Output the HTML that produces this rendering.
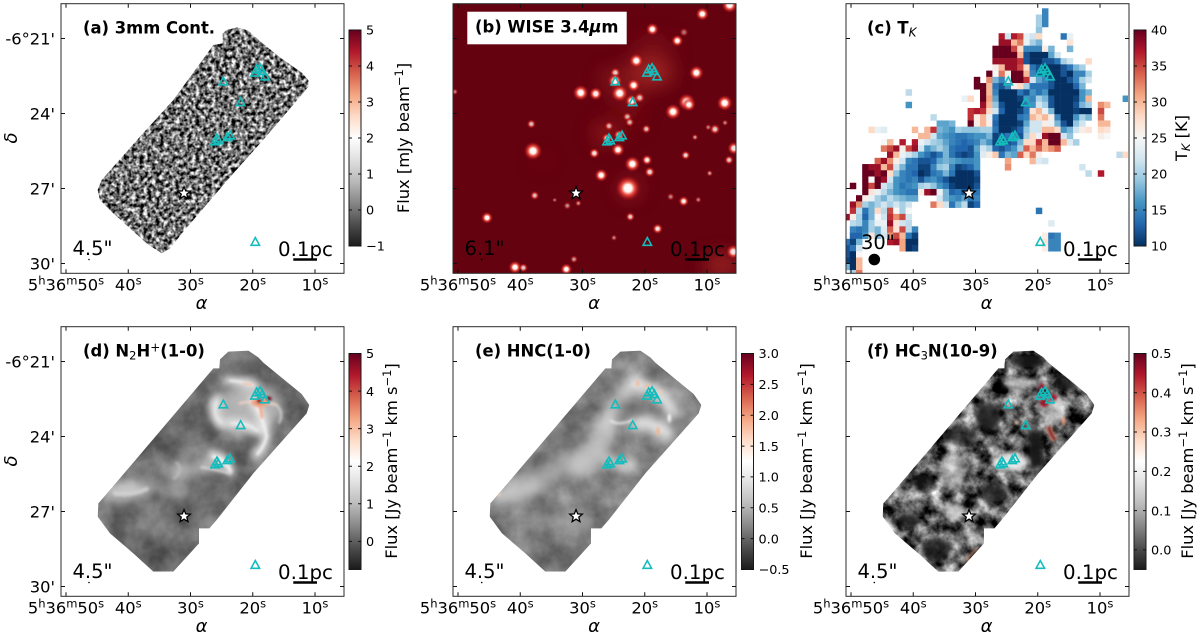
<!DOCTYPE html>
<html lang="en">
<head>
<meta charset="utf-8">
<title>Molecular line maps</title>
<style>
html,body{margin:0;padding:0;background:#fff;width:1200px;height:639px;overflow:hidden}
svg{display:block;filter:blur(.3px)}
text{font-family:"DejaVu Sans","Liberation Sans",sans-serif;fill:#000}
.title{font-weight:bold;font-size:16.4px}
.res{font-size:19.5px}
.cb{font-size:16.3px}
.ax{font-size:18px;font-style:italic}
</style>
</head>
<body>
<svg id="fig" xmlns="http://www.w3.org/2000/svg" width="1200" height="639" viewBox="0 0 1200 639">
<defs>
<filter id="noiseA" x="0" y="0" width="1" height="1" color-interpolation-filters="sRGB"><feTurbulence type="fractalNoise" baseFrequency="0.25" numOctaves="2" seed="4"/><feColorMatrix values="2.1 0 0 0 -0.6  2.1 0 0 0 -0.6  2.1 0 0 0 -0.6  0 0 0 0 1"/></filter>
<filter id="mottleD" x="0" y="0" width="1" height="1" color-interpolation-filters="sRGB"><feTurbulence type="fractalNoise" baseFrequency="0.012" numOctaves="4" seed="9"/><feColorMatrix values="0.42 0 0 0 0.22  0.42 0 0 0 0.22  0.42 0 0 0 0.22  0 0 0 0 1"/></filter>
<filter id="mottleE" x="0" y="0" width="1" height="1" color-interpolation-filters="sRGB"><feTurbulence type="fractalNoise" baseFrequency="0.012" numOctaves="4" seed="12"/><feColorMatrix values="0.42 0 0 0 0.28  0.42 0 0 0 0.28  0.42 0 0 0 0.28  0 0 0 0 1"/></filter>
<filter id="mottleF" x="0" y="0" width="1" height="1" color-interpolation-filters="sRGB"><feTurbulence type="fractalNoise" baseFrequency="0.022" numOctaves="5" seed="21"/><feColorMatrix values="1.7 0 0 0 -0.46  1.7 0 0 0 -0.46  1.7 0 0 0 -0.46  0 0 0 0 1"/></filter>
<filter id="soft" x="-30%" y="-30%" width="160%" height="160%"><feGaussianBlur stdDeviation="7"/></filter>
<filter id="softE" x="-30%" y="-30%" width="160%" height="160%"><feGaussianBlur stdDeviation="16"/></filter>
<filter id="softer" x="-40%" y="-40%" width="180%" height="180%"><feGaussianBlur stdDeviation="30"/></filter>
<filter id="halo" x="-30%" y="-30%" width="160%" height="160%"><feGaussianBlur stdDeviation="12"/></filter>
<filter id="fine" x="-30%" y="-30%" width="160%" height="160%"><feGaussianBlur stdDeviation="4"/></filter>
<radialGradient id="starGlow"><stop offset="0" stop-color="#fff"/><stop offset=".3" stop-color="#fff2ee"/><stop offset=".5" stop-color="#f2584a"/><stop offset=".78" stop-color="#b81c20" stop-opacity=".55"/><stop offset="1" stop-color="#8c0a14" stop-opacity="0"/></radialGradient>
<clipPath id="clipA"><polygon transform="scale(.33333)" points="668,100 680,90 712,82 745,92 778,122 840,172 905,218 925,240 925,260 905,285 785,425 700,520 640,590 550,695 510,745 485,760 440,730 340,640 300,600 293,570 305,540 420,410 520,300 640,135 668,130"/></clipPath>
<clipPath id="clipD"><polygon id="shapeD" points="660,118 685,95 745,92 775,112 790,128 905,222 928,255 920,280 760,460 650,600 628,625 597,625 597,670 520,755 460,755 400,700 330,640 293,590 295,550 330,510 640,145 658,145"/></clipPath>
<clipPath id="clipB"><rect x="453" y="4" width="283" height="269"/></clipPath>
<clipPath id="clipC"><rect x="846" y="4" width="282" height="269"/></clipPath>
</defs>

<g id="panel-a">
<g clip-path="url(#clipA)"><rect x="61" y="4" width="283" height="269" filter="url(#noiseA)"/></g>
</g>

<g id="panel-b" clip-path="url(#clipB)">
<rect x="453" y="4" width="283" height="269" fill="#640210"/>
<g transform="translate(420,0) scale(.33333)" filter="url(#softer)">
<ellipse cx="690" cy="215" rx="70" ry="40" fill="#c43a30" opacity=".7"/>
<ellipse cx="620" cy="290" rx="45" ry="30" fill="#b02a26" opacity=".45"/>
<ellipse cx="575" cy="235" rx="30" ry="16" fill="#d04838" opacity=".7"/>
<ellipse cx="700" cy="135" rx="60" ry="22" fill="#9a1c1c" opacity=".55"/>
<ellipse cx="560" cy="400" rx="38" ry="24" fill="#c03028" opacity=".75"/>
<ellipse cx="640" cy="350" rx="22" ry="40" fill="#8e1418" opacity=".45"/>
<ellipse cx="905" cy="795" rx="50" ry="24" fill="#c03a30" opacity=".9"/>
<ellipse cx="365" cy="480" rx="24" ry="10" fill="#9a1c1c" opacity=".55"/>
<ellipse cx="630" cy="565" rx="26" ry="26" fill="#c03a30" opacity=".75"/>
</g>
<g id="wise-stars"></g>
</g>

<g id="panel-c" clip-path="url(#clipC)"><g id="tk-cells"></g></g>

<g id="panel-d" transform="translate(0,320) scale(.33333)">
<g clip-path="url(#clipD)">
<rect x="260" y="60" width="700" height="730" filter="url(#mottleD)"/>
<g filter="url(#softE)" opacity=".75" stroke="#cfcfcf" fill="none">
<ellipse cx="740" cy="270" rx="105" ry="75" fill="#cccccc" stroke="none"/>
<ellipse cx="380" cy="510" rx="80" ry="28" fill="#e2e2e2" stroke="none"/>
<path d="M520,470 Q600,430 680,430" stroke-width="36"/>
<path d="M440,470 Q470,520 560,520" stroke-width="24" stroke="#b0b0b0"/>
<path d="M560,400 Q540,430 500,460" stroke-width="24" stroke="#b8b8b8"/>
</g>
<g filter="url(#halo)" fill="none" stroke="#f2f2f2" stroke-linecap="round" opacity=".9">
<path d="M680,180 Q720,182 765,198" stroke-width="26"/>
<path d="M650,240 Q632,285 665,312" stroke-width="28"/>
<path d="M760,240 Q790,300 800,350 Q790,385 770,405" stroke-width="28"/>
<path d="M690,310 Q740,305 772,335" stroke-width="22"/>
<path d="M640,405 Q680,420 692,458" stroke-width="30"/>
</g>
<g filter="url(#fine)" fill="none" stroke-linecap="round" opacity=".85">
<path d="M690,182 Q725,184 760,196" stroke="#f4f4f4" stroke-width="7"/>
<path d="M650,245 Q636,285 665,308" stroke="#e6e6e6" stroke-width="7"/>
<path d="M770,260 Q792,305 800,350 Q790,385 772,402" stroke="#f6f6f6" stroke-width="8"/>
<path d="M695,310 Q740,306 772,332" stroke="#f0f0f0" stroke-width="7"/>
<path d="M820,250 Q855,270 838,308" stroke="#dedede" stroke-width="6"/>
<path d="M640,410 Q680,420 692,456" stroke="#f4f4f4" stroke-width="10"/>
<path d="M605,442 Q650,448 690,460" stroke="#d8d8d8" stroke-width="8"/>
<path d="M530,428 Q552,450 522,476" stroke="#bdbdbd" stroke-width="8"/>
<path d="M345,520 Q400,526 440,507" stroke="#d4d4d4" stroke-width="12"/>
<path d="M720,250 Q760,238 830,255" stroke="#f2d6ca" stroke-width="8"/>
</g>
<g filter="url(#fine)">
<path d="M780,250 L786,295" stroke="#f4a582" stroke-width="8" fill="none"/>
<path d="M728,190 L758,195" stroke="#f4b699" stroke-width="5" fill="none"/>
<ellipse cx="780" cy="248" rx="26" ry="13" fill="#f0a080"/>
<ellipse cx="778" cy="243" rx="9" ry="7" fill="#8f0d22"/>
<ellipse cx="806" cy="236" rx="9" ry="6" fill="#67001f"/>
</g>
</g>
</g>

<g id="panel-e" transform="translate(420,320) scale(.33333)">
<g transform="translate(-84,0)"><g clip-path="url(#clipD)"><g transform="translate(84,0)">
<rect x="180" y="60" width="700" height="730" filter="url(#mottleE)"/>
<g filter="url(#softE)" fill="none" stroke-linecap="round">
<path d="M235,530 Q300,500 340,500" stroke="#d8d8d8" stroke-width="50" opacity=".85"/>
<path d="M300,530 Q400,440 480,420" stroke="#bcbcbc" stroke-width="60" opacity=".7"/>
<path d="M480,440 Q530,400 560,320" stroke="#cccccc" stroke-width="70" opacity=".8"/>
<path d="M560,300 Q600,230 650,180" stroke="#dcdcdc" stroke-width="40" opacity=".8"/>
<path d="M650,310 Q690,300 740,340" stroke="#f4f4f4" stroke-width="46" opacity=".9"/>
<path d="M640,190 Q720,200 760,280" stroke="#f6f6f6" stroke-width="34"/>
<path d="M560,420 Q590,440 640,440" stroke="#e4e4e4" stroke-width="26"/>
<path d="M360,600 Q420,610 500,610" stroke="#acacac" stroke-width="32" opacity=".7"/>
<ellipse cx="610" cy="255" rx="24" ry="20" fill="#7d7d7d" stroke="none"/>
</g>
<g filter="url(#fine)">
<ellipse cx="653" cy="190" rx="5" ry="10" fill="#f4b699"/>
<ellipse cx="682" cy="198" rx="8" ry="5" fill="#f4b699"/>
<ellipse cx="714" cy="334" rx="5" ry="14" fill="#f4b28f"/>
<ellipse cx="722" cy="215" rx="6" ry="4" fill="#f7c9ad"/>
<ellipse cx="237" cy="524" rx="7" ry="4" fill="#f7c9ad"/>
<ellipse cx="748" cy="294" rx="5" ry="14" fill="#fafafa"/>
<path d="M570,300 Q590,320 640,300" stroke="#ececec" stroke-width="6" fill="none"/>
</g>
</g></g></g>
</g>

<g id="panel-f" transform="translate(780,320) scale(.33333)">
<g transform="translate(15,0)"><g clip-path="url(#clipD)"><g transform="translate(-15,0)">
<rect x="290" y="60" width="700" height="730" filter="url(#mottleF)"/>
<g filter="url(#soft)">
<path d="M770,330 Q760,400 775,445" stroke="#141414" stroke-width="44" fill="none" opacity=".95"/>
<ellipse cx="625" cy="290" rx="36" ry="45" fill="#1c1c1c" opacity=".85"/>
<ellipse cx="740" cy="125" rx="50" ry="22" fill="#161616" opacity=".9"/>
<ellipse cx="860" cy="190" rx="40" ry="22" fill="#1c1c1c" opacity=".8"/>
<ellipse cx="385" cy="600" rx="30" ry="22" fill="#1c1c1c" opacity=".85"/>
<ellipse cx="470" cy="690" rx="40" ry="36" fill="#1c1c1c" opacity=".8"/>
<ellipse cx="640" cy="520" rx="40" ry="30" fill="#1c1c1c" opacity=".8"/>
<ellipse cx="545" cy="350" rx="50" ry="28" fill="#222" opacity=".7"/>
<ellipse cx="430" cy="490" rx="30" ry="30" fill="#222" opacity=".6"/>
<ellipse cx="520" cy="450" rx="36" ry="55" fill="#c8c8c8" opacity=".6"/>
<ellipse cx="525" cy="575" rx="30" ry="26" fill="#d0d0d0" opacity=".7"/>
<ellipse cx="690" cy="425" rx="52" ry="26" fill="#f2f2f2" opacity=".9"/>
<ellipse cx="720" cy="190" rx="50" ry="16" fill="#d8d8d8" opacity=".7"/>
<ellipse cx="820" cy="270" rx="32" ry="46" fill="#cfcfcf" opacity=".6"/>
</g>
<g filter="url(#fine)">
<path d="M806,320 Q812,345 826,360" stroke="#f4a582" stroke-width="17" fill="none"/>
<path d="M806,320 Q812,345 826,360" stroke="#7a0522" stroke-width="11" fill="none"/>
<ellipse cx="785" cy="205" rx="8" ry="16" fill="#8a0a24"/>
<ellipse cx="792" cy="250" rx="13" ry="11" fill="#9a1428"/>
<ellipse cx="820" cy="232" rx="12" ry="9" fill="#a5162a"/>
<ellipse cx="850" cy="303" rx="5" ry="13" fill="#f09a78"/>
<path d="M555,722 L592,684" stroke="#f4b699" stroke-width="5" fill="none"/>
<ellipse cx="710" cy="308" rx="7" ry="5" fill="#f7d0bb"/>
</g>
</g></g></g>
</g>

<!-- panel titles -->
<text class="title" x="83" y="33.5">(a) 3mm Cont.</text>
<rect x="467.3" y="11.7" width="159.4" height="32.6" fill="#fff"/>
<text class="title" x="475" y="32.5">(b) WISE 3.4<tspan font-style="italic">μ</tspan>m</text>
<text class="title" x="867" y="33.5">(c) T<tspan font-size="12" font-style="italic" font-weight="normal" dy="3">K</tspan></text>
<text class="title" x="83" y="356.5">(d) N<tspan font-size="11.5" font-weight="normal" dy="3">2</tspan><tspan dy="-3">H</tspan><tspan font-size="12" font-weight="normal" dy="-5">+</tspan><tspan dy="5">(1-0)</tspan></text>
<text class="title" x="475" y="356.5">(e) HNC(1-0)</text>
<text class="title" x="867" y="356.5">(f) HC<tspan font-size="11.5" font-weight="normal" dy="3">3</tspan><tspan dy="-3">N(10-9)</tspan></text>

<!-- beam sizes -->
<text class="res" x="72.5" y="255">4.5"</text>
<text class="res" x="464.5" y="255">6.1"</text>
<text class="res" x="861" y="249">30"</text>
<text class="res" x="72.5" y="578">4.5"</text>
<text class="res" x="464.5" y="578">4.5"</text>
<text class="res" x="857.5" y="578">4.5"</text>
<circle cx="89" cy="259.5" r=".8"/>
<circle cx="481.7" cy="259.5" r="1"/>
<circle cx="874.3" cy="259.5" r="5.8"/>
<circle cx="89" cy="582.5" r=".8"/>
<circle cx="481.7" cy="582.5" r=".8"/>
<circle cx="874.3" cy="582.5" r=".8"/>

<!-- axis / colorbar titles -->
<text class="ax" x="201.5" y="309" text-anchor="middle">α</text>
<text class="ax" x="594" y="309" text-anchor="middle">α</text>
<text class="ax" x="986.5" y="309" text-anchor="middle">α</text>
<text class="ax" x="201.5" y="632" text-anchor="middle">α</text>
<text class="ax" x="594" y="632" text-anchor="middle">α</text>
<text class="ax" x="986.5" y="632" text-anchor="middle">α</text>
<text class="ax" transform="translate(17,138) rotate(-90)" text-anchor="middle">δ</text>
<text class="ax" transform="translate(17,461) rotate(-90)" text-anchor="middle">δ</text>
<text class="cb" transform="translate(409,138) rotate(-90)" text-anchor="middle">Flux [mJy beam<tspan font-size="11.5" dy="-6">−1</tspan><tspan dy="6">]</tspan></text>
<text class="cb" transform="translate(1187,138) rotate(-90)" text-anchor="middle">T<tspan font-size="11.5" font-style="italic" dy="3">K</tspan><tspan dy="-3"> [K]</tspan></text>
<text class="cb" transform="translate(397,461) rotate(-90)" text-anchor="middle">Flux [Jy beam<tspan font-size="11.5" dy="-6">−1</tspan><tspan dy="6"> km s</tspan><tspan font-size="11.5" dy="-6">−1</tspan><tspan dy="6">]</tspan></text>
<text class="cb" transform="translate(812,461) rotate(-90)" text-anchor="middle">Flux [Jy beam<tspan font-size="11.5" dy="-6">−1</tspan><tspan dy="6"> km s</tspan><tspan font-size="11.5" dy="-6">−1</tspan><tspan dy="6">]</tspan></text>
<text class="cb" transform="translate(1193,461) rotate(-90)" text-anchor="middle">Flux [Jy beam<tspan font-size="11.5" dy="-6">−1</tspan><tspan dy="6"> km s</tspan><tspan font-size="11.5" dy="-6">−1</tspan><tspan dy="6">]</tspan></text>

<g id="overlay"></g>
</svg>

<script>
// ---- data ----
const raTicks = [50, 40, 30, 20, 10];
const raTickLabels = ["36m50", "40", "30", "20", "10"];
const decTicks = [21, 24, 27, 30];
const decTickLabels = ["-6°21'", "24'", "27'", "30'"];
const coreRa  = [24.73, 21.94, 19.64, 19.37, 18.83, 18.46, 18.03, 26.06, 25.53, 25.75, 24.08, 23.65, 19.59];
const coreDec = [22.70, 23.53, 22.35, 22.22, 22.17, 22.29, 22.50, 25.10, 25.06, 24.98, 24.93, 24.86, 29.12];
const irsRa = [31.04];
const irsDec = [27.19];
const cbarARange = [-1, 5];
const cbarATicks = [5, 4, 3, 2, 1, 0, -1];
const cbarCRange = [10, 40];
const cbarCTicks = [40, 35, 30, 25, 20, 15, 10];
const cbarDRange = [-0.75, 5];
const cbarDTicks = [5, 4, 3, 2, 1, 0];
const cbarERange = [-0.5, 3];
const cbarETicks = [3, 2.5, 2, 1.5, 1, 0.5, 0, -0.5];
const cbarFRange = [-0.05, 0.5];
const cbarFTicks = [0.5, 0.4, 0.3, 0.2, 0.1, 0];
// WISE sources: RA seconds, Dec arcmin, apparent radius, opacity
const wiseSources = [
[6.36,19.66,6,1],[10.75,20.02,5,1],[18.78,20.63,4.8,1],[14.77,21.09,4.5,1],[13.7,20.75,3.5,.45],
[21.35,21.89,5.5,1],[11.71,22.37,5.5,1],[24.73,22.37,4,.8],[24.78,22.70,5.5,1],[21.78,22.87,5,1],
[24.03,23.19,6.5,1],[30.29,23.17,6,1],[27.88,23.21,5,.95],[22.1,23.5,5,1],[20.82,23.37,4,.75],
[13.27,23.54,6.5,1],[12.89,23.65,5,.9],[15.46,23.93,6,1],[7.16,23.58,6,1],[22.8,24.13,3.5,.7],
[22.42,24.35,3.5,.7],[19.75,24.62,3.5,.75],[25.74,24.5,3.5,.7],[38.22,24.42,3.5,.75],[9.8,24.55,2.5,.5],
[8.72,24.63,4,.8],[7.1,24.37,2.5,.5],[11.93,24.95,2.5,.6],[24.14,24.86,4,.9],[26.07,24.99,4,.9],
[37.95,25.5,7,1],[24.3,25.45,5,1],[28.1,25.59,4,.9],[13.43,25.67,3.5,.85],[5.66,25.39,5,.9],
[6.46,25.86,3.5,.8],[19.64,25.86,4,.95],[21.99,26.02,6,1],[19.2,26.34,4,.85],[27,26.47,5,1],
[9.57,26.39,2.5,.6],[22.69,26.99,9.5,1],[31.2,27.22,3.5,.7],[37.68,27.28,3.5,.75],[13.75,27.51,4,.95],
[15.84,27.33,3,.5],[11.4,27.45,2.5,.5],[32.44,27.69,3,.55],[30.67,27.59,2.5,.55],[22.32,28.13,3.5,.8],
[45.34,28.17,4.5,1],[17.93,28.61,4,.9],[24.94,28.97,2.5,.5],[5.77,29.53,5.5,.9],[31.37,29.83,3,.6],
[40.84,30.15,5,1],[39.5,30.17,3.5,.8],[32.6,30.23,4.5,1],[50.5,23.13,2.5,.5],[34.47,27.46,2,.45]
];
// T_K map: [row, first column, temperatures...]
const tkCells = [
[0,32,15],[1,31,20,15],[2,31,20,15],[3,31,19],
[4,25,37,22,37,35,24,22,28],[4,35,14,24],
[5,25,38,38,30,33,24,20,18],[5,36,27],
[6,24,40,40,40,35,28,15,15,15,26,18],[6,36,18],
[7,24,40,40,40,40,30,12,10,10,10,17,22],
[8,24,38,38,38,38,36,12,10,10,12,12,14,20,22],[8,39,28],
[9,24,26,30,38,38,35,28,14,12,10,10,10,12,14,18,20],
[10,23,40,25,33,26,40,40,30,15,12,10,10,10,12,10,15,15,20],
[11,21,40],[11,23,32,18,15,22,40,40,36,22,17,15,12,10,10,12,15,20,22],
[12,21,40,40,30,14,12,15,26,28,20,14,14,14,12,10,10,10,13,18],
[13,10,21],[13,22,40,30,15,10,10,10,14,12,16,14,16,10,10,10,10,10,16,18],
[14,19,24,28],[14,22,40,31,17,10,10,10,11,16,15,20,18,12,10,10,10,11,16,30],[14,45,16],
[15,10,16],[15,22,38,30,19,12,10,10,10,14,16,22,20,12,10,10,10,12,18,20],[15,41,32,30],
[16,20,36,37,36,28,22,13,10,10,11,14,27,30,24,18,10,10,10,11,10,10],[16,41,35],
[17,14,21],[17,20,36,26,30,24,14,10,10,10,14,15,30,28,30,26,15,10,10,16,20,18],[17,41,33],
[18,15,17,17,18],[18,20,40,26,30,26,13,10,10,10,11,17,22,22,26,24,18,12,10,19,22],[18,41,30,30],
[19,4,28,24,23],[19,11,30],[19,13,30,36,18,17,16,20,19,19,19,20,20,14,10,10,11,13,19,22,22,30,30,28,16,18,22,26,27],[19,41,28,27],
[20,12,30,30,22,17,16,15,14,14,15,16,16,18,11,12,14,15,12,20,28,24,38,40,40,22,19],[20,41,26,25],
[21,6,25,30],[21,9,37],[21,11,37,24,22,20,19,17,15,14,13,14,15,18,16,11,12,12,13,18,28,28,36,30,40,40,30,23,20],
[22,6,33,35,38,26,35,38,22,16,18,20,18,14,13,13,12,17,22,20,13,12,14,16,20,34,30,34,30,32,34],
[23,7,38,30,24,22,20,16,14,12,14,18,14,12,11,12,16,23,26,29,14,18,17,34,28,33,26],[23,44,21,28],
[24,5,34,38,32,26,22,15,14,12,12,13,17,18,17,16,15,15,16],[24,26,31],[24,30,30,23,22],
[25,3,40,38,38,30,35,22,18,14,14,11,11,15,19,20,15,11,12,13,16],[25,26,32],[25,38,22],
[26,3,40,40,38,40,28,19,15,14,13,10,11,14,15,18,14,10,10,10,12],[26,39,21],[26,41,37],
[27,3,40,25,40,38,22,16,15,14,15,12,15,16,14,12,10,10,10,10,11],
[28,1,40],[28,3,40,35,40,22,20,16,14,15,16,20,21,19,16,14,11,10,10,10,12],
[29,3,40,27,24,21,18,16,15,14,14,26,38,40,24,18,13,14,12,12,14],
[30,2,40,26,24,20,18,21,19,18,17,17],[30,15,22,18,16,15,17,14,15],
[31,1,38,32,20,18,20,22,20,22,20,22],[31,14,33,28,22,14,18,21,11,13],
[32,1,36,21,14,18,28,21,35,25,20,25],[32,31,14],
[33,0,38,26,20,13,18,25,22,36,32,35,22],
[34,1,21,20,15,20,24,24,38,27,22,21],[34,33,23],
[35,1,15,14,15,20,18,23,34,27,35,21,15],
[36,1,13,13,16,27,18,22,32,35,30,14,11],[36,32,26,14,15],
[37,0,14,11,18],[37,7,37,38,31,10,10],[37,32,27,15,15],
[38,0,12,14,22],[38,9,31,10,11],[38,32,26,15,15],
[39,0,12,10,25],[40,0,11,10,30],[41,0,18,10,30],[42,1,20,33]
];
const rdgyStops = ["#1a1a1a","#4d4d4d","#878787","#bababa","#e0e0e0","#ffffff","#fddbc7","#f4a582","#d6604d","#b2182b","#67001f"];
const rdbuStops = ["#053061","#2166ac","#4393c3","#92c5de","#d1e5f0","#f7f7f7","#fddbc7","#f4a582","#d6604d","#b2182b","#67001f"];

// ---- layout ----
const NS = "http://www.w3.org/2000/svg";
const frameW = 283, frameH = 269.6, frameTop = 3.7, frameLeft = 61;
const pxPerRaSec = 6.225, pxPerArcmin = 25;
const xAt = (ra, ox) => ox + 66 + (50 - ra) * pxPerRaSec;
const yAt = (dec, oy) => oy + 38.5 + (dec - 21) * pxPerArcmin;
const tkLeft = 843.6, tkTop = 8.3, tkCellW = 6.2, tkCellH = 6.23;
const tkX = c => tkLeft + c * tkCellW;
const tkY = r => tkTop + r * tkCellH;
const overlay = document.getElementById("overlay");

function mk(tag, attrs, parent) {
  const el = document.createElementNS(NS, tag);
  for (const k in attrs) el.setAttribute(k, attrs[k]);
  (parent || overlay).appendChild(el);
  return el;
}
function hexRgb(h) { return [1, 3, 5].map(i => parseInt(h.substr(i, 2), 16)); }
function cmap(stops, t) {
  t = Math.max(0, Math.min(1, t)) * (stops.length - 1);
  const i = Math.min(stops.length - 2, Math.floor(t)), f = t - i;
  const a = hexRgb(stops[i]), b = hexRgb(stops[i + 1]);
  return "rgb(" + a.map((v, k) => Math.round(v + (b[k] - v) * f)).join(",") + ")";
}

// ---- WISE sources ----
const starLayer = document.getElementById("wise-stars");
wiseSources.forEach(s => {
  const el = mk("circle", {cx: xAt(s[0], 392), cy: yAt(s[1], 0), r: s[2] * 1.35, fill: "url(#starGlow)", opacity: s[3]}, starLayer);
  
  
});

// ---- T_K heat map ----
const tkLayer = document.getElementById("tk-cells");
tkCells.forEach(seg => {
  const row = seg[0], start = seg[1];
  seg.slice(2).forEach((T, i) => {
    const el = mk("rect", {x: tkX(start + i), y: tkY(row), width: tkCellW + .25, height: tkCellH + .25,
      fill: cmap(rdbuStops, (T - cbarCRange[0]) / (cbarCRange[1] - cbarCRange[0]))}, tkLayer);
    
    
  });
});

// ---- panel furniture ----
function drawPanel(id, ox, oy, showYLabels) {
  const frame = mk("rect", {x: ox + frameLeft, y: oy + frameTop, width: frameW, height: frameH, fill: "none", stroke: "#2b2b2b", "stroke-width": 1});
  
  
  raTicks.forEach((ra, i) => {
    const x = xAt(ra, ox);
    const t = mk("path", {d: `M${x},${oy + frameTop}v4M${x},${oy + frameTop + frameH}v-4`, stroke: "#111", fill: "none", "stroke-width": 1});
    
    
    const lab = mk("text", {x: x, y: oy + 290.5, "text-anchor": "middle", "font-size": 16.3});
    
    
    if (i === 0) {
      lab.appendChild(document.createTextNode("5"));
      mk("tspan", {"font-size": 11.5, dy: -6}, lab).textContent = "h";
      mk("tspan", {dy: 6}, lab).textContent = "36";
      mk("tspan", {"font-size": 11.5, dy: -6}, lab).textContent = "m";
      mk("tspan", {dy: 6}, lab).textContent = "50";
    } else {
      lab.appendChild(document.createTextNode(raTickLabels[i]));
    }
    mk("tspan", {"font-size": 11.5, dy: -6}, lab).textContent = "s";
  });
  decTicks.forEach((d, i) => {
    const y = yAt(d, oy);
    const t = mk("path", {d: `M${ox + frameLeft},${y}h4M${ox + frameLeft + frameW},${y}h-4`, stroke: "#111", fill: "none", "stroke-width": 1});
    
    
    if (showYLabels) {
      const lab = mk("text", {x: ox + 55, y: y + 5.8, "text-anchor": "end", "font-size": 16.3});
      
      
      lab.textContent = decTickLabels[i];
    }
  });
  coreRa.forEach((ra, i) => {
    const x = xAt(ra, ox), y = yAt(coreDec[i], oy);
    const tri = mk("polygon", {points: `${x - 4.2},${y + 3.8} ${x + 4.2},${y + 3.8} ${x},${y - 4}`, fill: "none", stroke: "#14bcbc", "stroke-width": 1.6});
    
    
  });
  irsRa.forEach((ra, i) => {
    const x = xAt(ra, ox), y = yAt(irsDec[i], oy);
    let pts = "";
    for (let k = 0; k < 10; k++) {
      const r = k % 2 ? 2.9 : 6.6, a = -Math.PI / 2 + k * Math.PI / 5;
      pts += (x + r * Math.cos(a)) + "," + (y + r * Math.sin(a)) + " ";
    }
    const star = mk("polygon", {points: pts, fill: "#fff", stroke: "#000", "stroke-width": 1.3});
    
    
  });
  const bar = mk("line", {x1: ox + 293.3, x2: ox + 317, y1: oy + 259.5, y2: oy + 259.5, stroke: "#000", "stroke-width": 2.6});
  
  
  const sc = mk("text", {x: ox + 278, y: oy + 256, "font-size": 19.8});
  
  
  sc.textContent = "0.1pc";
}

// ---- colour bars ----
function drawColorbar(id, x, y, range, ticks, stops, fmt) {
  const w = 12, h = 216;
  const gid = "grad-" + id;
  let defs = document.querySelector("defs");
  const g = mk("linearGradient", {id: gid, x1: 0, y1: 1, x2: 0, y2: 0}, defs);
  stops.forEach((c, i) => mk("stop", {offset: i / (stops.length - 1), "stop-color": c}, g));
  const r = mk("rect", {x: x, y: y, width: w, height: h, fill: `url(#${gid})`, stroke: "#1a1a1a", "stroke-width": 1});
  
  
  ticks.forEach(v => {
    const ty = y + h - (v - range[0]) / (range[1] - range[0]) * h;
    const t = mk("path", {d: `M${x},${ty}h3M${x + w},${ty}h-3`, stroke: "#111", "stroke-width": 1, fill: "none"});
    
    
    const lab = mk("text", {x: x + w + 5, y: ty + 4.7, "font-size": 12.8});
    
    
    lab.textContent = fmt(v).replace("-", "−");
  });
}

drawPanel("panel-a", 0, 0, true);
drawPanel("panel-b", 392, 0, false);
drawPanel("panel-c", 785, 0, false);
drawPanel("panel-d", 0, 323, true);
drawPanel("panel-e", 392, 323, false);
drawPanel("panel-f", 785, 323, false);

const int0 = v => String(v);
const dec1 = v => v.toFixed(1);
drawColorbar("panel-a", 349, 30, cbarARange, cbarATicks, rdgyStops, int0);
drawColorbar("panel-c", 1134, 30, cbarCRange, cbarCTicks, rdbuStops, int0);
drawColorbar("panel-d", 349, 353.5, cbarDRange, cbarDTicks, rdgyStops, int0);
drawColorbar("panel-e", 741.5, 353.5, cbarERange, cbarETicks, rdgyStops, dec1);
drawColorbar("panel-f", 1134, 353.5, cbarFRange, cbarFTicks, rdgyStops, dec1);
</script>
</body>
</html>
